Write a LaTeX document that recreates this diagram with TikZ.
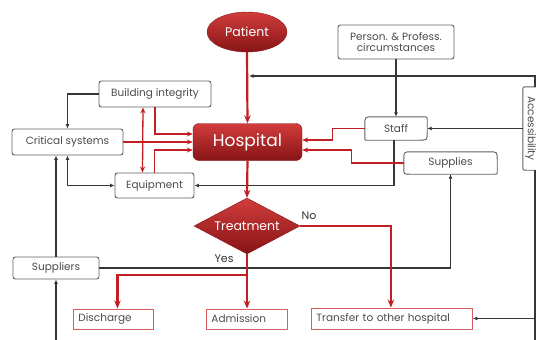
\documentclass[tikz,border=0pt]{standalone}
\usepackage{fontspec}
\setmainfont{Poppins}
\usetikzlibrary{shapes.geometric,arrows.meta,calc}
\definecolor{redA}{RGB}{210,60,60}
\definecolor{redB}{RGB}{135,20,22}
\definecolor{lnred}{RGB}{192,32,36}
\definecolor{boxgray}{RGB}{95,95,95}
\definecolor{txtgray}{RGB}{75,75,75}
\definecolor{lnblk}{RGB}{55,55,55}
\definecolor{outred}{RGB}{215,95,95}
\newcommand\cornerbox[5]{%
 \draw[boxline] ($(#1.north west)+(#2,0)$) -- ($(#1.north east)+(-#3,0)$)
   .. controls (#1.north east) .. ($(#1.north east)+(0,#3)$)
   -- ($(#1.south east)+(0,-#4)$)
   .. controls (#1.south east) .. ($(#1.south east)+(-#4,0)$)
   -- ($(#1.south west)+(#5,0)$)
   .. controls (#1.south west) .. ($(#1.south west)+(0,-#5)$)
   -- ($(#1.north west)+(0,#2)$)
   .. controls (#1.north west) .. ($(#1.north west)+(#2,0)$) -- cycle;}
\begin{document}
\begin{tikzpicture}[x=1pt,y=-1pt,
 every node/.style={font=\fontsize{10.5}{11.5}\selectfont, text=txtgray},
 graybox/.style={draw=boxgray, line width=0.9pt, rounded corners=2.5pt, fill=white, inner sep=1pt},
 plainnode/.style={inner sep=1pt},
 boxline/.style={draw=boxgray, line width=0.9pt},
 outbox/.style={draw=outred, line width=0.9pt, inner xsep=5pt, inner ysep=2pt, align=left, text=txtgray, anchor=west},
 redfill/.style={top color=redA, bottom color=redB, draw=redB, line width=0.4pt, text=white},
 blk/.style={draw=lnblk, line width=1.1pt, -{Latex[length=4.5pt,width=4pt]}},
 blkboth/.style={draw=lnblk, line width=1.1pt, {Latex[length=4.5pt,width=4pt]}-{Latex[length=4.5pt,width=4pt]}},
 blkline/.style={draw=lnblk, line width=1.1pt},
 rdthick/.style={draw=lnred, line width=2.2pt, -{Stealth[length=8pt,width=6.5pt]}},
 rdthin/.style={draw=lnred, line width=1.3pt, -{Stealth[length=6pt,width=5pt]}},
 rdboth/.style={draw=lnred, line width=1.3pt, {Stealth[length=6pt,width=5pt]}-{Stealth[length=6pt,width=5pt]}},
]
\useasboundingbox (0,0) rectangle (536,340);

% red main shapes
\node[ellipse, redfill, minimum width=80pt, minimum height=40pt, inner sep=0pt,
      font=\fontsize{12.5}{14}\selectfont] (pat) at (247,32) {Patient};
\node[rectangle, rounded corners=6pt, redfill, minimum width=109pt, minimum height=37pt,
      font=\fontsize{17}{19}\selectfont] (hosp) at (247.5,142) {Hospital};
\node[diamond, redfill, minimum width=106pt, minimum height=56pt, inner sep=0pt, aspect=1.9,
      font=\fontsize{12.5}{14}\selectfont] (treat) at (247,226) {Treatment};

% gray boxes
\node[graybox, minimum width=112pt, minimum height=26pt] (bi) at (155,94) {Building integrity};
\node[graybox, minimum width=111pt, minimum height=26pt] (cs) at (67.5,142) {Critical systems};
\node[graybox, minimum width=79pt, minimum height=25pt] (eq) at (154.5,185.5) {Equipment};
\node[graybox, minimum width=116pt, minimum height=34pt, align=center,
      font=\fontsize{10.5}{11}\selectfont] (pp) at (396,42) {Person. \& Profess.\\circumstances};
\node[graybox, minimum width=86pt, minimum height=22pt] (spl) at (56,268) {Suppliers};
\node[plainnode, minimum width=62pt, minimum height=23pt] (st) at (396,128.5) {Staff};
\node[plainnode, minimum width=93pt, minimum height=22pt] (sup) at (450.5,163) {Supplies};
\node[plainnode, minimum width=15pt, minimum height=83pt] (acc) at (530.5,128.5) {\rotatebox{-90}{Accessibility}};
\cornerbox{st}{8}{3}{8}{1}
\cornerbox{sup}{8}{8}{2}{6}
\cornerbox{acc}{4}{1}{1}{4}

% outcome boxes
\node[outbox, text width=70pt, minimum height=20pt] (dis) at (73,319) {Discharge};
\node[outbox, text width=71pt, minimum height=20pt] (adm) at (206,319) {Admission};
\node[outbox, text width=151pt, minimum height=21pt] (tr) at (311,318.5) {Transfer to other hospital};

% junction coordinates
\coordinate (acctop) at (535,87);
\coordinate (accbot) at (535,170);
\coordinate (accend) at (535,340);
\coordinate (patin) at (249,76);
\coordinate (splbot) at (56,340);
\coordinate (yesj) at (247,275);

% black connectors
\draw[blk] (acctop) -- (acctop |- patin) -- (patin);
\draw[blk] (acc.west |- st.east) -- (st.east);
\draw[blkline] (accbot) -- (accend);
\draw[blk] (accend |- tr.east) -- (tr.east);
\draw[blk] (pp.south) -- (st.north);
\draw[blk] ([xshift=-2pt]st.south) |- (eq.east);
\draw[blk] (bi.west) -| (cs.north);
\draw[blkboth] (cs.south) |- (eq.west);
\draw[blk] (spl.north) -- (spl.north |- cs.south);
\draw[blk] (splbot) -- (spl.south);
\draw[blk] (spl.east) -| (sup.south);

% red connectors
\draw[rdthick] (pat.south) -- (hosp.north);
\draw[rdthick] (hosp.south) -- (treat.north);
\draw[rdthick] (treat.south) -- (treat.south |- adm.north);
\draw[rdthick] (yesj) -| ([xshift=4pt]dis.north);
\draw[rdthick] (treat.east) -| ([xshift=-1pt]tr.north);
\node[anchor=south, font=\fontsize{11}{12}\selectfont, text=black!80] (yes) at (224,266) {Yes};
\node[anchor=south, font=\fontsize{11}{12}\selectfont, text=black!80] (no) at (309,223) {No};

\draw[rdthin] (bi.south) |- ($(hosp.west)+(0,-8)$);
\draw[rdthin] (cs.east) -- (hosp.west);
\draw[rdthin] (eq.north) |- ($(hosp.west)+(0,8)$);
\draw[rdboth] ($(bi.south)+(-12,0)$) -- ($(eq.north)+(-12,0)$);
\draw[rdthin] (st.west) -- ++(-32,0) |- ($(hosp.east)+(0,-2)$);
\draw[rdthin] (sup.west) -- ++(-52,0) |- ($(hosp.east)+(0,8)$);
\end{tikzpicture}
\end{document}
